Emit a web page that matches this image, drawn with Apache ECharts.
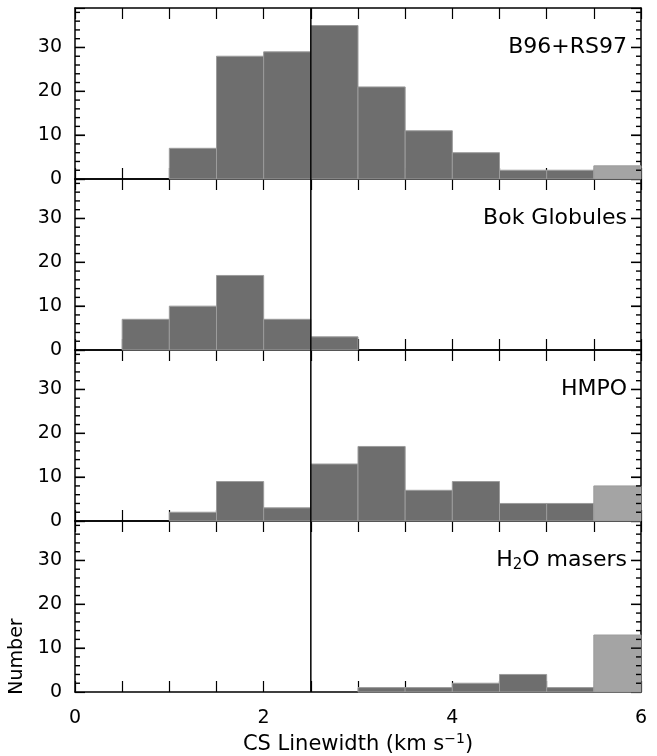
<!DOCTYPE html>
<html>
<head>
<meta charset="utf-8">
<script src="https://cdn.jsdelivr.net/npm/echarts@6/dist/echarts.min.js"></script>
<style>
  html, body { margin: 0; padding: 0; background: #fff; }
  #chart { width: 657px; height: 756px; }
</style>
</head>
<body>
<div id="chart"></div>
<script>
// bin starts (km/s), bins are 0.5 wide; last bin (5.5-6) is the overflow bin
const binStarts = [0, 0.5, 1, 1.5, 2, 2.5, 3, 3.5, 4, 4.5, 5, 5.5]
const binWidth = 0.5
const panelNames = ['B96+RS97', 'Bok Globules', 'HMPO', 'H2O masers']
const b96 = [0, 0, 7, 28, 29, 35, 21, 11, 6, 2, 2, 3]
const bok = [0, 7, 10, 17, 7, 3, 0, 0, 0, 0, 0, 0]
const hmpo = [0, 0, 2, 9, 3, 13, 17, 7, 9, 4, 4, 8]
const masers = [0, 0, 0, 0, 0, 0, 1, 1, 2, 4, 1, 13]
const counts = [b96, bok, hmpo, masers]
const cutLine = 2.5
const xTickLabels = [0, 2, 4, 6]
const yTickLabels = [0, 10, 20, 30]
// y tick marks (long at multiples of 10)
const yTickValues = [2, 4, 6, 8, 10, 12, 14, 16, 18, 20, 22, 24, 26, 28, 30, 32, 34, 36, 38]

const font = 'DejaVu Sans'
const dark = '#6e6e6e'
const light = '#a4a4a4'

const left = 75
const width = 566
const top0 = 8
const panelH = 171
const yMax = 39
const xMin = 0
const xMax = 6

const grids = [], xAxes = [], yAxes = [], series = []

const tick = (len) => ({ show: true, inside: true, length: len, lineStyle: { color: '#000', width: 1.2 } })
const axLine = () => ({ show: true, onZero: false, lineStyle: { color: '#000', width: 1.5 } })

// one tick series per frame side; each tick is a thin rect placed by the y scale
const tickSeries = (i, side) => ({
  type: 'custom', silent: true, clip: false,
  xAxisIndex: i * 2, yAxisIndex: i * 2,
  data: yTickValues.map(v => [side === 'left' ? xMin : xMax, v]),
  renderItem: (params, api) => {
    const v = api.value(1)
    const len = v % 10 === 0 ? 10 : 5
    const p = api.coord([api.value(0), v])
    return {
      type: 'rect',
      shape: { x: side === 'left' ? p[0] : p[0] - len, y: p[1] - 0.7, width: len, height: 1.4 },
      style: { fill: '#000' }
    }
  },
  z: 10
})

counts.forEach((vals, i) => {
  const isLast = i === counts.length - 1
  grids.push({ left: left, width: width, top: top0 + i * panelH, height: panelH, outerBoundsMode: 'none' })

  // bottom x axis
  xAxes.push({
    type: 'value', gridIndex: i, min: xMin, max: xMax, interval: 0.5,
    axisLine: axLine(),
    axisTick: tick(11),
    splitLine: { show: false },
    axisLabel: {
      show: isLast, color: '#000', fontFamily: font, fontSize: 19, margin: 17,
      formatter: v => xTickLabels.includes(v) ? String(v) : ''
    },
    name: isLast ? 'CS Linewidth (km s{sup|−1})' : '',
    nameLocation: 'middle', nameGap: 40,
    nameTextStyle: {
      color: '#000', fontFamily: font, fontSize: 21,
      rich: { sup: { fontFamily: font, fontSize: 14, color: '#000', verticalAlign: 'top', padding: [0, 0, 12, 0] } }
    }
  })
  // top mirror
  xAxes.push({
    type: 'value', gridIndex: i, min: xMin, max: xMax, interval: 0.5, position: 'top',
    axisLine: axLine(),
    axisTick: tick(11),
    splitLine: { show: false }, axisLabel: { show: false }
  })

  yAxes.push({
    type: 'value', gridIndex: i, min: 0, max: yMax, interval: 10,
    axisLine: axLine(),
    axisTick: tick(10),
    splitLine: { show: false },
    axisLabel: {
      color: '#000', fontFamily: font, fontSize: 19, margin: 13,
      formatter: v => yTickLabels.includes(v) ? String(v) : ''
    },
    name: isLast ? 'Number' : '',
    nameLocation: 'middle', nameGap: 46, nameRotate: 90,
    nameTextStyle: { color: '#000', fontFamily: font, fontSize: 19, padding: [0, 0, 0, -100] }
  })
  yAxes.push({
    type: 'value', gridIndex: i, min: 0, max: yMax, interval: 10, position: 'right',
    axisLine: axLine(),
    axisTick: tick(10),
    splitLine: { show: false }, axisLabel: { show: false }
  })

  series.push({
    type: 'custom',
    xAxisIndex: i * 2, yAxisIndex: i * 2,
    data: binStarts.map((b, k) => [b, vals[k], k === binStarts.length - 1 ? 1 : 0]),
    renderItem: (params, api) => {
      const x0 = api.value(0)
      const v = api.value(1)
      if (!v) return null
      const p0 = api.coord([x0, v])
      const p1 = api.coord([x0 + binWidth, 0])
      return {
        type: 'rect',
        shape: { x: p0[0], y: p0[1], width: p1[0] - p0[0], height: p1[1] - p0[1] },
        style: { fill: api.value(2) ? light : dark, stroke: '#9c9c9c', lineWidth: 1 }
      }
    },
    z: 1
  })

  series.push(tickSeries(i, 'left'))
  series.push(tickSeries(i, 'right'))

  series.push({
    type: 'line', xAxisIndex: i * 2, yAxisIndex: i * 2,
    data: [[cutLine, 0], [cutLine, yMax]],
    symbol: 'none', lineStyle: { color: '#000', width: 1.5 }, z: 3
  })
})

const labelText = panelNames.map((n, i) => ({
  type: 'text',
  right: 657 - 627,
  top: top0 + i * panelH + 28,
  style: {
    text: n === 'H2O masers' ? 'H{sub|2}O masers' : n,
    font: '22px "DejaVu Sans"', fill: '#000',
    rich: { sub: { fontFamily: font, fontSize: 15, verticalAlign: 'bottom', padding: [10, 0, 0, 0] } }
  }
}))

const chart = echarts.init(document.getElementById('chart'))
chart.setOption({
  animation: false,
  grid: grids,
  xAxis: xAxes,
  yAxis: yAxes,
  series: series,
  graphic: labelText
})
</script>
</body>
</html>
